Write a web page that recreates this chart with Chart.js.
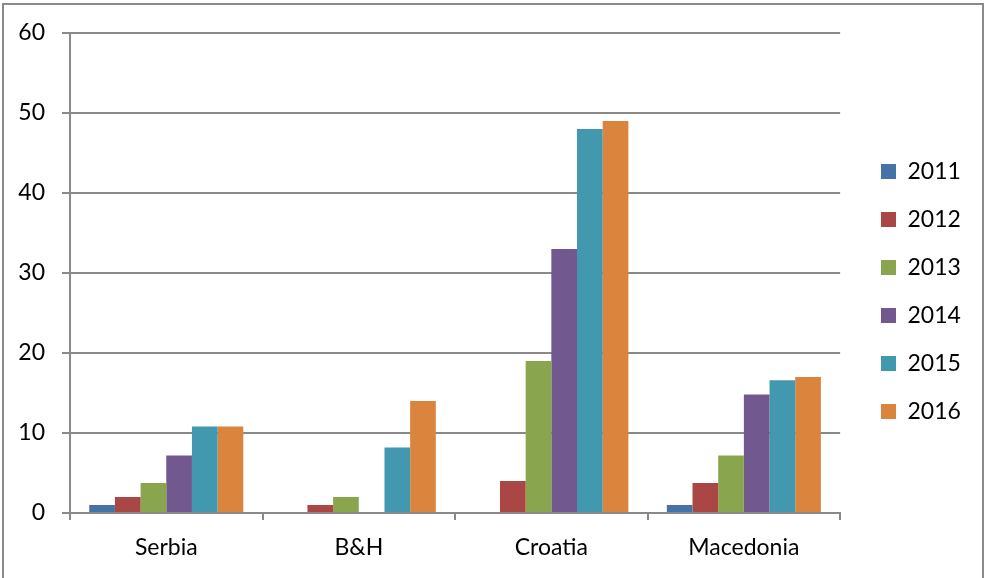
<!DOCTYPE html>
<html>
<head>
<meta charset="utf-8">
<script src="https://cdn.jsdelivr.net/npm/chart.js@4/dist/chart.umd.min.js"></script>
<style>
  html, body { margin: 0; padding: 0; background: #fff; }
  #frame {
    position: absolute; left: 2px; top: 3px; width: 982px; height: 590px;
    border: 2px solid #8a8a8a; box-sizing: border-box;
  }
  #wrap { position: absolute; left: 0; top: 0; width: 985px; height: 578px; }
</style>
</head>
<body>
<div id="frame"></div>
<div id="wrap"><canvas id="chart" width="985" height="578"></canvas></div>
<script>
// Countries on the category axis
const countries = ['Serbia', 'B&H', 'Croatia', 'Macedonia'];

// One series per year
const years = ['2011', '2012', '2013', '2014', '2015', '2016'];
const values2011 = [1, 0, 0, 1];
const values2012 = [2, 1, 4, 3.75];
const values2013 = [3.75, 2, 19, 7.2];
const values2014 = [7.2, 0, 33, 14.8];
const values2015 = [10.8, 8.2, 48, 16.6];
const values2016 = [10.8, 14, 49, 17];

// Value axis ticks
const yTicks = [0, 10, 20, 30, 40, 50, 60];

const seriesValues = [values2011, values2012, values2013, values2014, values2015, values2016];
const seriesColors = ['#4572A7', '#AA4643', '#89A54E', '#71588F', '#4198AF', '#DB843D'];

const axisGray = '#898989';
const font = { family: 'Lato, "Open Sans", sans-serif', size: 23 };

// Place the legend column: first swatch at (881, 164)
const legendPlacer = {
  id: 'legendPlacer',
  afterLayout(chart) {
    const lg = chart.legend;
    if (!lg || !lg.columnSizes) return;
    const lab = lg.options.labels;
    const pad = lab.padding;
    const dx = 881 - (lg.left + pad);
    lg.left += dx; lg.right += dx;
    const startY = (lg.top + pad + lg.bottom - lg.columnSizes[0].height) / 2;
    const wantY = 164 - (font.size - lab.boxHeight) / 2;
    const dy = wantY - startY;
    lg.top += dy; lg.bottom += dy;
  }
};

new Chart(document.getElementById('chart'), {
  type: 'bar',
  data: {
    labels: countries,
    datasets: years.map((y, i) => ({
      label: y,
      data: seriesValues[i],
      backgroundColor: seriesColors[i],
      borderWidth: 0,
      categoryPercentage: 0.8,
      barPercentage: 1.0
    }))
  },
  options: {
    responsive: false,
    animation: false,
    layout: { padding: { top: 33, right: 30, bottom: 10, left: 0 } },
    plugins: {
      tooltip: { enabled: false },
      legend: {
        position: 'right',
        labels: {
          boxWidth: 15, boxHeight: 15, padding: 25,
          color: '#000', font: font
        }
      }
    },
    scales: {
      x: {
        grid: {
          display: true, drawOnChartArea: false, drawTicks: true,
          tickLength: 7, color: axisGray, lineWidth: 2, offset: true
        },
        border: { display: true, color: axisGray, width: 2 },
        ticks: { color: '#000', font: { ...font, lineHeight: 1.2 }, padding: 14, maxRotation: 0 },
        afterFit(s) { s.height = 55; }
      },
      y: {
        min: 0, max: 60,
        afterBuildTicks(s) { s.ticks = yTicks.map(v => ({ value: v })); },
        grid: { color: axisGray, lineWidth: 2, drawTicks: true, tickLength: 8 },
        border: { display: true, color: axisGray, width: 2 },
        ticks: { color: '#000', font: font, padding: 17 },
        afterFit(s) { s.width = 70; }
      }
    }
  },
  plugins: [legendPlacer]
});
</script>
</body>
</html>
